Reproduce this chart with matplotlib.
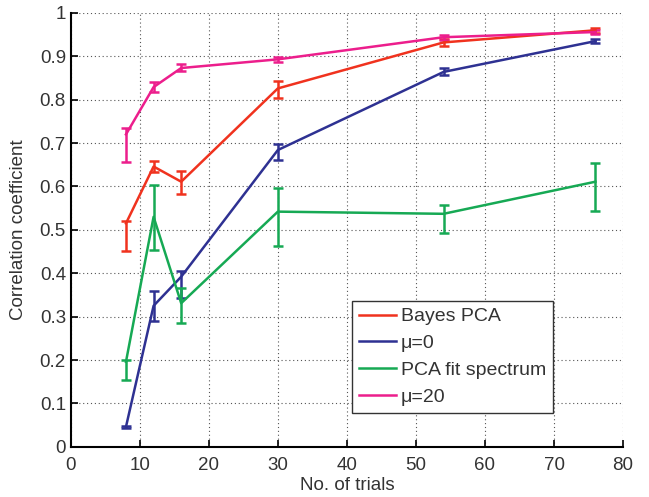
import numpy as np
import matplotlib
matplotlib.use('Agg')
from matplotlib import pyplot as plt

plt.rcParams['font.family'] = ['Liberation Sans', 'DejaVu Sans']

trials = [8, 12, 16, 30, 54, 76]

# mean, lower end and upper end of each error bar
bayes = [0.515, 0.646, 0.611, 0.826, 0.932, 0.960]
bayes_lo = [0.452, 0.634, 0.582, 0.804, 0.924, 0.954]
bayes_hi = [0.520, 0.659, 0.636, 0.842, 0.940, 0.965]

mu0 = [0.046, 0.325, 0.392, 0.684, 0.864, 0.935]
mu0_lo = [0.044, 0.291, 0.343, 0.662, 0.857, 0.931]
mu0_hi = [0.049, 0.359, 0.405, 0.699, 0.872, 0.939]

pca_fit = [0.196, 0.530, 0.331, 0.542, 0.537, 0.611]
pca_fit_lo = [0.155, 0.454, 0.286, 0.463, 0.493, 0.544]
pca_fit_hi = [0.201, 0.604, 0.367, 0.597, 0.557, 0.653]

mu20 = [0.720, 0.829, 0.873, 0.893, 0.944, 0.956]
mu20_lo = [0.657, 0.818, 0.866, 0.888, 0.938, 0.951]
mu20_hi = [0.734, 0.841, 0.882, 0.899, 0.950, 0.961]

series = [
    ('Bayes PCA', bayes, bayes_lo, bayes_hi, '#f0321e'),
    ('\u03bc=0', mu0, mu0_lo, mu0_hi, '#2e3192'),
    ('PCA fit spectrum', pca_fit, pca_fit_lo, pca_fit_hi, '#16a954'),
    ('\u03bc=20', mu20, mu20_lo, mu20_hi, '#ec1e8c'),
]

fig = plt.figure(figsize=(6.49, 4.97), dpi=100)
ax = fig.add_axes([0.109, 0.101, 0.851, 0.873])

for name, m, lo, hi, c in series:
    m = np.array(m)
    err = [m - np.array(lo), np.array(hi) - m]
    ax.errorbar(trials, m, yerr=err, color=c, lw=1.8, elinewidth=1.8,
                capsize=3.8, capthick=1.8, label=name)

ax.set_xlim(0, 80)
ax.set_ylim(0, 1)
ax.set_xticks(range(0, 81, 10))
ax.set_yticks(np.arange(0, 1.01, 0.1))
ax.set_yticklabels(['0', '0.1', '0.2', '0.3', '0.4', '0.5', '0.6', '0.7', '0.8', '0.9', '1'])
ax.grid(True, linestyle=(0, (1, 2.5)), color='#555555', lw=0.8)
for s in ['top', 'right']:
    ax.spines[s].set_visible(False)
for s in ['left', 'bottom']:
    ax.spines[s].set_linewidth(1.5)
ax.tick_params(direction='in', length=5, width=1.2, labelsize=13.5,
               labelcolor='#333333')
ax.tick_params(axis='x', pad=7.5)
ax.tick_params(axis='y', pad=3.5)
ax.set_xlabel('No. of trials', fontsize=13.5, labelpad=2, color='#333333')
ax.set_ylabel('Correlation coefficient', fontsize=13.5, labelpad=9, color='#333333')

# legend shows plain lines like the original
handles = [plt.Line2D([], [], color=c, lw=1.8) for _, _, _, _, c in series]
leg = ax.legend(handles, [s[0] for s in series], loc='lower left',
                bbox_to_anchor=(0.509, 0.078), fontsize=14, fancybox=False,
                framealpha=1, edgecolor='#333333', handlelength=1.9,
                handletextpad=0.28, borderpad=0.35, labelspacing=0.48,
                borderaxespad=0)
leg.get_frame().set_linewidth(1.0)
for t in leg.get_texts():
    t.set_color('#333333')

fig.savefig('out.png', dpi=100)
